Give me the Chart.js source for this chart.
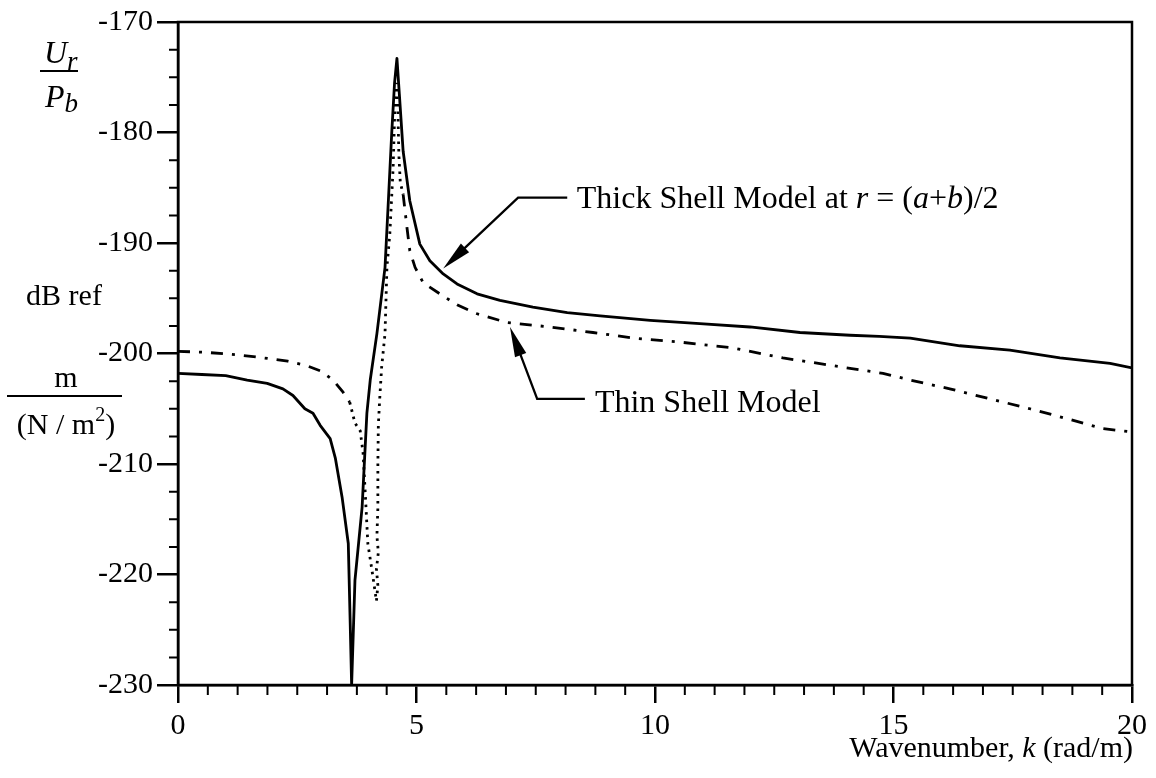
<!DOCTYPE html>
<html><head><meta charset="utf-8">
<script src="https://cdn.jsdelivr.net/npm/chart.js@4.4.1/dist/chart.umd.min.js"></script>
<style>html,body{margin:0;padding:0;background:#fff;}canvas{display:block;}</style>
</head><body>
<canvas id="c" width="1156" height="778"></canvas>
<script>
// Thick shell model at r=(a+b)/2 (solid)
const thickK  = [0, 0.5, 1.0, 1.45, 1.87, 2.2, 2.41, 2.66, 2.83, 2.98, 3.19, 3.3, 3.44, 3.57, 3.61, 3.64, 3.71, 3.86, 3.96, 4.03, 4.17, 4.34, 4.41, 4.48, 4.54, 4.59, 4.64, 4.72, 4.86, 5.07, 5.28, 5.56, 5.85, 6.27, 6.75, 7.44, 8.16, 8.85, 9.9, 10.94, 11.99, 13.04, 14.09, 14.7, 15.35, 16.39, 17.44, 18.49, 19.54, 20];
const thickDB = [-201.8, -201.9, -202.0, -202.4, -202.7, -203.2, -203.8, -205.0, -205.4, -206.5, -207.7, -209.5, -213.0, -217.2, -224.4, -230, -220.5, -213.9, -205.4, -202.4, -198.2, -192.2, -186.2, -180.1, -175.5, -173.3, -176.5, -181.7, -186.2, -190.1, -191.6, -192.8, -193.7, -194.6, -195.2, -195.8, -196.3, -196.6, -197.0, -197.3, -197.6, -198.1, -198.35, -198.45, -198.6, -199.3, -199.7, -200.4, -200.9, -201.3];
// Thin shell model (dash-dot)
const thinK  = [0, 0.6, 1.2, 1.8, 2.3, 2.7, 3.0, 3.25, 3.46, 3.6, 3.71, 3.82, 3.88, 3.93, 3.98, 4.08, 4.16, 4.19, 4.16, 4.2, 4.17, 4.19, 4.19, 4.2, 4.23, 4.27, 4.34, 4.38, 4.44, 4.51, 4.55, 4.58, 4.61, 4.63, 4.66, 4.72, 4.8, 4.86, 4.97, 5.14, 5.49, 5.85, 6.27, 6.9, 7.8, 8.7, 9.54, 10.59, 11.64, 12.68, 13.73, 14.78, 15.35, 16.18, 17.02, 17.86, 18.64, 19.39, 20];
const thinDB = [-199.8, -199.9, -200.1, -200.4, -200.7, -201.1, -201.6, -202.4, -203.5, -204.4, -206.3, -207.0, -209.0, -213.0, -217.2, -220.0, -222.4, -221.0, -219.5, -218.0, -216.5, -214.0, -210.0, -206.5, -204.0, -201.2, -198.2, -192.2, -189.2, -183.2, -177.1, -175.5, -178.0, -182.0, -184.5, -185.6, -188.6, -190.7, -192.2, -193.6, -194.6, -195.6, -196.4, -197.2, -197.6, -198.1, -198.6, -199.0, -199.5, -200.4, -201.1, -201.8, -202.4, -203.2, -204.1, -205.0, -205.9, -206.8, -207.1];

const xTicks = [0, 5, 10, 15, 20];
const yTicks = [-170, -180, -190, -200, -210, -220, -230];
const seriesNames = ['Thick Shell Model', 'Thin Shell Model'];

const FONT = '"Liberation Serif", "Times New Roman", serif';
const MINOR_X = 0.625, MINOR_Y = 2.5;

function fnt(size, italic){ return (italic ? 'italic ' : '') + size + 'px ' + FONT; }
function drawRich(ctx, parts, x, y, align){
  let w = 0;
  parts.forEach(p => { ctx.font = fnt(p.s, p.i); p.w = ctx.measureText(p.t).width; w += p.w; });
  let cx = align === 'right' ? x - w : (align === 'center' ? x - w/2 : x);
  parts.forEach(p => { ctx.font = fnt(p.s, p.i); ctx.fillText(p.t, cx, y + (p.dy || 0)); cx += p.w; });
}
function arrow(ctx, pts){
  const [a, b, t] = pts;
  const dx = t.x - b.x, dy = t.y - b.y, L = Math.hypot(dx, dy);
  const ux = dx / L, uy = dy / L, hl = 30, hw = 6;
  const bx = t.x - ux * hl, by = t.y - uy * hl;
  ctx.beginPath(); ctx.moveTo(a.x, a.y); ctx.lineTo(b.x, b.y); ctx.lineTo(bx + ux*2, by + uy*2); ctx.stroke();
  ctx.beginPath(); ctx.moveTo(t.x, t.y);
  ctx.lineTo(bx - uy * hw, by + ux * hw); ctx.lineTo(bx + uy * hw, by - ux * hw); ctx.closePath(); ctx.fill();
}

const decor = {
  id: 'decor',
  afterDraw(chart){
    const {ctx, chartArea: ca, scales: {x, y}} = chart;
    ctx.save();
    ctx.strokeStyle = '#000'; ctx.fillStyle = '#000'; ctx.lineWidth = 2.5;
    ctx.strokeRect(ca.left, ca.top, ca.right - ca.left, ca.bottom - ca.top);
    ctx.lineWidth = 2;
    ctx.beginPath();
    for (let v = x.min; v <= x.max + 1e-9; v += MINOR_X){
      if (Math.abs(v % 5) < 1e-6) continue;
      const px = x.getPixelForValue(v);
      ctx.moveTo(px, ca.bottom); ctx.lineTo(px, ca.bottom + 10);
    }
    for (let v = y.min; v <= y.max + 1e-9; v += MINOR_Y){
      if (Math.abs(v % 10) < 1e-6) continue;
      const py = y.getPixelForValue(v);
      ctx.moveTo(ca.left, py); ctx.lineTo(ca.left - 9, py);
    }
    ctx.stroke();
    ctx.lineWidth = 2.3;
    const P = (k, d) => ({x: x.getPixelForValue(k), y: y.getPixelForValue(d)});
    arrow(ctx, [P(8.16, -185.9), P(7.13, -185.9), P(5.56, -192.3)]);
    arrow(ctx, [P(8.53, -204.1), P(7.53, -204.1), P(6.96, -197.6)]);
    ctx.textBaseline = 'alphabetic';
    const tl = P(8.36, -186.8);
    drawRich(ctx, [{t: seriesNames[0] + ' at ', s: 32}, {t: 'r', s: 32, i: true}, {t: ' = (', s: 32}, {t: 'a', s: 32, i: true}, {t: '+', s: 32}, {t: 'b', s: 32, i: true}, {t: ')/2', s: 32}], tl.x, tl.y, 'left');
    const nl = P(8.74, -205.3);
    drawRich(ctx, [{t: seriesNames[1], s: 32}], nl.x, nl.y, 'left');
    drawRich(ctx, [{t: 'U', s: 32, i: true}, {t: 'r', s: 27, i: true, dy: 7}], 44, 63, 'left');
    ctx.lineWidth = 2;
    ctx.beginPath(); ctx.moveTo(40, 71); ctx.lineTo(78, 71); ctx.stroke();
    drawRich(ctx, [{t: 'P', s: 32, i: true}, {t: 'b', s: 27, i: true, dy: 5}], 45, 107, 'left');
    drawRich(ctx, [{t: 'dB ref', s: 30}], 64, 305, 'center');
    drawRich(ctx, [{t: 'm', s: 30}], 66, 387, 'center');
    ctx.beginPath(); ctx.moveTo(7, 396); ctx.lineTo(122, 396); ctx.stroke();
    drawRich(ctx, [{t: '(N / m', s: 30}, {t: '2', s: 20, dy: -13}, {t: ')', s: 30}], 66, 434, 'center');
    drawRich(ctx, [{t: 'Wavenumber, ', s: 30}, {t: 'k', s: 30, i: true}, {t: ' (rad/m)', s: 30}], 1133, 757, 'right');
    ctx.restore();
  }
};

new Chart(document.getElementById('c'), {
  type: 'scatter',
  data: {
    datasets: [
      {
        label: seriesNames[0],
        data: thickK.map((k, i) => ({x: k, y: thickDB[i]})),
        showLine: true, borderColor: '#000', borderWidth: 2.8, pointRadius: 0, tension: 0,
        borderJoinStyle: 'round'
      },
      {
        label: seriesNames[1],
        data: thinK.map((k, i) => ({x: k, y: thinDB[i]})),
        showLine: true, borderColor: '#000', borderWidth: 2.8, pointRadius: 0, tension: 0,
        borderDash: [12, 9, 3, 9],
        segment: {
          borderDash: c => (thinK[c.p0DataIndex] >= 3.58 && thinK[c.p0DataIndex] < 4.7) ? [2.5, 5] : [12, 9, 3, 9]
        }
      }
    ]
  },
  options: {
    responsive: false, animation: false, devicePixelRatio: 1,
    layout: {padding: {top: 21, right: 24, left: 0, bottom: 0}},
    plugins: {legend: {display: false}, tooltip: {enabled: false}},
    scales: {
      x: {
        type: 'linear', min: 0, max: 20,
        afterBuildTicks: s => { s.ticks = xTicks.map(v => ({value: v})); },
        afterFit: s => { s.height = 93; },
        grid: {drawOnChartArea: false, drawTicks: true, tickLength: 18, color: '#000', lineWidth: 2.5},
        border: {display: true, color: '#000', width: 2.5},
        ticks: {color: '#000', font: {family: FONT, size: 30}, padding: 5, maxRotation: 0}
      },
      y: {
        type: 'linear', min: -230, max: -170,
        afterBuildTicks: s => { s.ticks = yTicks.map(v => ({value: v})); },
        afterFit: s => { s.width = 178; },
        grid: {drawOnChartArea: false, drawTicks: true, tickLength: 21, color: '#000', lineWidth: 2.5},
        border: {display: true, color: '#000', width: 2.5},
        ticks: {color: '#000', font: {family: FONT, size: 30}, padding: 4}
      }
    }
  },
  plugins: [decor]
});
</script>
</body></html>
